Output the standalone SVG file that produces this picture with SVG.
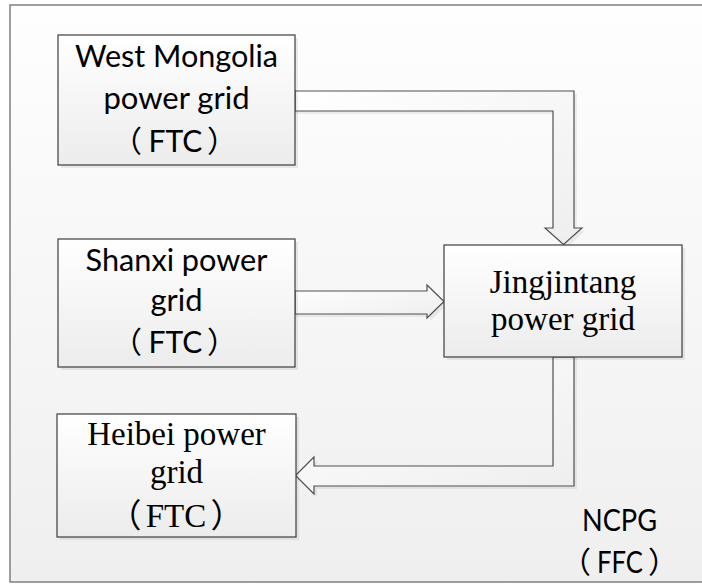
<svg xmlns="http://www.w3.org/2000/svg" width="702" height="585" viewBox="0 0 702 585">
  <defs>
    <linearGradient id="bg" x1="0" y1="0" x2="0" y2="1">
      <stop offset="0" stop-color="#fefefe"/>
      <stop offset="1" stop-color="#efefef"/>
    </linearGradient>
    <linearGradient id="boxfill" x1="0" y1="0" x2="0" y2="1">
      <stop offset="0" stop-color="#ffffff"/>
      <stop offset="1" stop-color="#ececec"/>
    </linearGradient>
    <linearGradient id="arrowfill" x1="0" y1="0" x2="1" y2="1">
      <stop offset="0" stop-color="#ffffff"/>
      <stop offset="1" stop-color="#eeeeee"/>
    </linearGradient>
  </defs>
  <style>
    .frame { fill: url(#bg); stroke: #7f7f7f; stroke-width: 1.5; }
    .shadow { fill: #000000; fill-opacity: 0.07; }
    .box { fill: url(#boxfill); stroke: #3c3c3c; stroke-width: 1.2; }
    .arrow { fill: url(#arrowfill); stroke: #505050; stroke-width: 1.2; stroke-linejoin: miter; }
    .ashadow { fill: #000000; fill-opacity: 0.06; }
    text { text-spacing-trim: space-all; }
    .sans { font-family: Lato, "Noto Sans CJK SC", sans-serif; font-size: 30px; fill: #000000; text-anchor: middle; }
    .serif { font-family: "Liberation Serif", "Noto Sans CJK SC", serif; font-size: 33px; fill: #000000; text-anchor: middle; }
  </style>

  <rect x="0" y="0" width="702" height="585" fill="#ffffff"/>
  <g id="frame">
    <rect class="frame" x="10" y="5" width="720" height="577"/>
  </g>

  <g id="connectors">
    <!-- West Mongolia -> Jingjintang -->
    <path class="ashadow" d="M296,94 L577,94 L577,231 L585,231 L566.5,248 L548,231 L556,231 L556,114 L296,114 Z"/>
    <path class="arrow" d="M295,91 L574,91 L574,228 L582,228 L563.5,244.5 L545,228 L553,228 L553,111 L295,111 Z"/>
    <!-- Shanxi -> Jingjintang -->
    <path class="ashadow" d="M296,294 L430,294 L430,288 L447,305 L430,321 L430,317 L296,317 Z"/>
    <path class="arrow" d="M295,291 L427,291 L427,285 L444,301.5 L427,318 L427,314 L295,314 Z"/>
    <!-- Jingjintang -> Heibei -->
    <path class="ashadow" d="M556,358 L556,469 L317,469 L317,460 L299,478.5 L317,497 L317,489 L577,489 L577,358 Z"/>
    <path class="arrow" d="M553,357 L553,466 L314,466 L314,457 L295.5,475.5 L314,494 L314,486 L574,486 L574,357 Z"/>
  </g>

  <g id="node-west-mongolia">
    <rect class="shadow" x="61" y="38" width="237" height="130"/>
    <rect class="box" x="58" y="35" width="237" height="130"/>
    <text class="sans" x="176.5" y="67" textLength="203" lengthAdjust="spacingAndGlyphs">West Mongolia</text>
    <text class="sans" x="176.5" y="109" textLength="146" lengthAdjust="spacingAndGlyphs">power grid</text>
    <text class="sans" y="152"><tspan x="127">（</tspan><tspan x="175.5">FTC</tspan><tspan x="222">）</tspan></text>
  </g>

  <g id="node-shanxi">
    <rect class="shadow" x="61" y="242" width="237" height="128"/>
    <rect class="box" x="58" y="239" width="237" height="128"/>
    <text class="sans" x="176.5" y="271" textLength="182" lengthAdjust="spacingAndGlyphs">Shanxi power</text>
    <text class="sans" x="176.5" y="311" textLength="52" lengthAdjust="spacingAndGlyphs">grid</text>
    <text class="sans" y="353"><tspan x="127">（</tspan><tspan x="175.5">FTC</tspan><tspan x="222">）</tspan></text>
  </g>

  <g id="node-jingjintang">
    <rect class="shadow" x="447" y="248" width="238" height="112"/>
    <rect class="box" x="444" y="245" width="238" height="112"/>
    <text class="serif" x="563" y="293">Jingjintang</text>
    <text class="serif" x="563" y="330">power grid</text>
  </g>

  <g id="node-heibei">
    <rect class="shadow" x="60" y="417" width="239" height="123"/>
    <rect class="box" x="57" y="414" width="239" height="123"/>
    <text class="serif" x="176.5" y="445">Heibei power</text>
    <text class="serif" x="176.5" y="483">grid</text>
    <text class="serif" y="527"><tspan x="125">（</tspan><tspan x="176">FTC</tspan><tspan x="227">）</tspan></text>
  </g>

  <g id="label-ncpg">
    <text class="sans" x="619.5" y="531" textLength="75" lengthAdjust="spacingAndGlyphs">NCPG</text>
    <text class="sans" y="573"><tspan x="576">（</tspan><tspan x="620" textLength="46" lengthAdjust="spacingAndGlyphs">FFC</tspan><tspan x="663">）</tspan></text>
  </g>
</svg>
